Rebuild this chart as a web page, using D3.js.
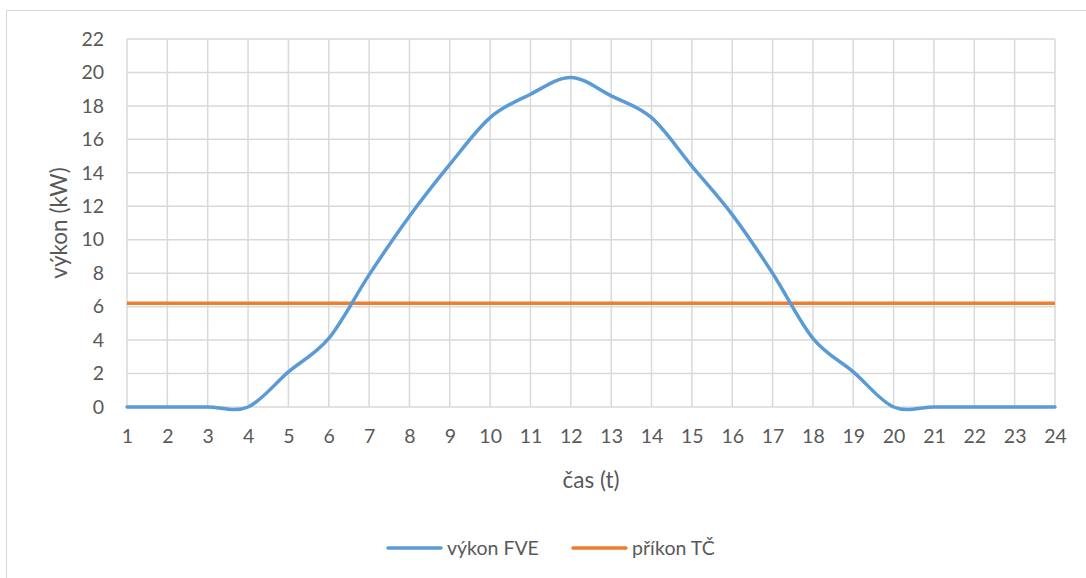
<!DOCTYPE html>
<html>
<head>
<meta charset="utf-8">
<script src="https://cdn.jsdelivr.net/npm/d3@7"></script>
<style>
  body { margin: 0; background: #fff; }
  text { font-family: Lato, "Open Sans", sans-serif; fill: #595959; }
</style>
</head>
<body>
<div id="chart"></div>
<script>
const hours = d3.range(1, 25);
const vykonFVE = [0, 0, 0, 0, 2.1, 4.1, 7.9, 11.4, 14.5, 17.3, 18.7, 19.7,
                  18.6, 17.3, 14.4, 11.5, 8.0, 4.1, 2.1, 0, 0, 0, 0, 0];
const prikonTC = hours.map(() => 6.2);
const yTicks = d3.range(0, 23, 2);
const seriesNames = ["výkon FVE", "příkon TČ"];
const colors = ["#5B9BD5", "#ED7D31"];

const width = 1086, height = 578;
const margin = { left: 127, right: 31, top: 39, bottom: 171 };

const svg = d3.select("#chart").append("svg")
  .attr("width", width).attr("height", height);

// outer chart border (runs off the right and bottom edge)
svg.append("rect")
  .attr("x", 6.5).attr("y", 10.5)
  .attr("width", width).attr("height", height)
  .attr("fill", "none").attr("stroke", "#d9d9d9");

const x = d3.scaleLinear().domain([1, 24]).range([margin.left, width - margin.right]);
const y = d3.scaleLinear().domain([0, 22]).range([height - margin.bottom, margin.top]);

// grid
svg.append("g").selectAll("line.v")
  .data(hours).enter().append("line")
  .attr("x1", d => x(d)).attr("x2", d => x(d))
  .attr("y1", y(0)).attr("y2", y(22))
  .attr("stroke", "#d9d9d9").attr("stroke-width", 1.5);

svg.append("g").selectAll("line.h")
  .data(yTicks).enter().append("line")
  .attr("x1", x(1)).attr("x2", x(24))
  .attr("y1", d => y(d)).attr("y2", d => y(d))
  .attr("stroke", "#d9d9d9").attr("stroke-width", 1.5);

// axes
const xAxis = svg.append("g")
  .attr("transform", `translate(0,${y(0)})`)
  .call(d3.axisBottom(x).tickValues(hours).tickSize(0).tickPadding(22));
const yAxis = svg.append("g")
  .attr("transform", `translate(${x(1)},0)`)
  .call(d3.axisLeft(y).tickValues(yTicks).tickSize(0).tickPadding(23));
[xAxis, yAxis].forEach(a => {
  a.select(".domain").remove();
  a.selectAll("text").attr("font-size", 19.5).attr("fill", "#595959")
    .attr("font-family", "Lato, 'Open Sans', sans-serif");
});

svg.append("text")
  .attr("x", (x(1) + x(24)) / 2).attr("y", 488)
  .attr("text-anchor", "middle").attr("font-size", 22.5)
  .text("čas (t)");

svg.append("text")
  .attr("transform", `translate(67,${(y(0) + y(22)) / 2}) rotate(-90)`)
  .attr("text-anchor", "middle").attr("font-size", 22.5)
  .text("výkon (kW)");

// lines
const line = d3.line()
  .x((d, i) => x(hours[i]))
  .y(d => y(d))
  .curve(d3.curveCardinal.tension(0));

svg.append("path").datum(prikonTC)
  .attr("d", line).attr("fill", "none")
  .attr("stroke", colors[1]).attr("stroke-width", 3.5);

svg.append("path").datum(vykonFVE)
  .attr("d", line).attr("fill", "none")
  .attr("stroke", colors[0]).attr("stroke-width", 3.5)
  .attr("stroke-linecap", "round");

// legend
const legendX = [388, 573];
const leg = svg.append("g").selectAll("g")
  .data(seriesNames).enter().append("g")
  .attr("transform", (d, i) => `translate(${legendX[i]},548)`);
leg.append("line")
  .attr("x1", 0).attr("x2", 53)
  .attr("stroke", (d, i) => colors[i]).attr("stroke-width", 3.5)
  .attr("stroke-linecap", "round");
leg.append("text")
  .attr("x", 59).attr("dy", "0.35em")
  .attr("font-size", 19.5)
  .text(d => d);
</script>
</body>
</html>
